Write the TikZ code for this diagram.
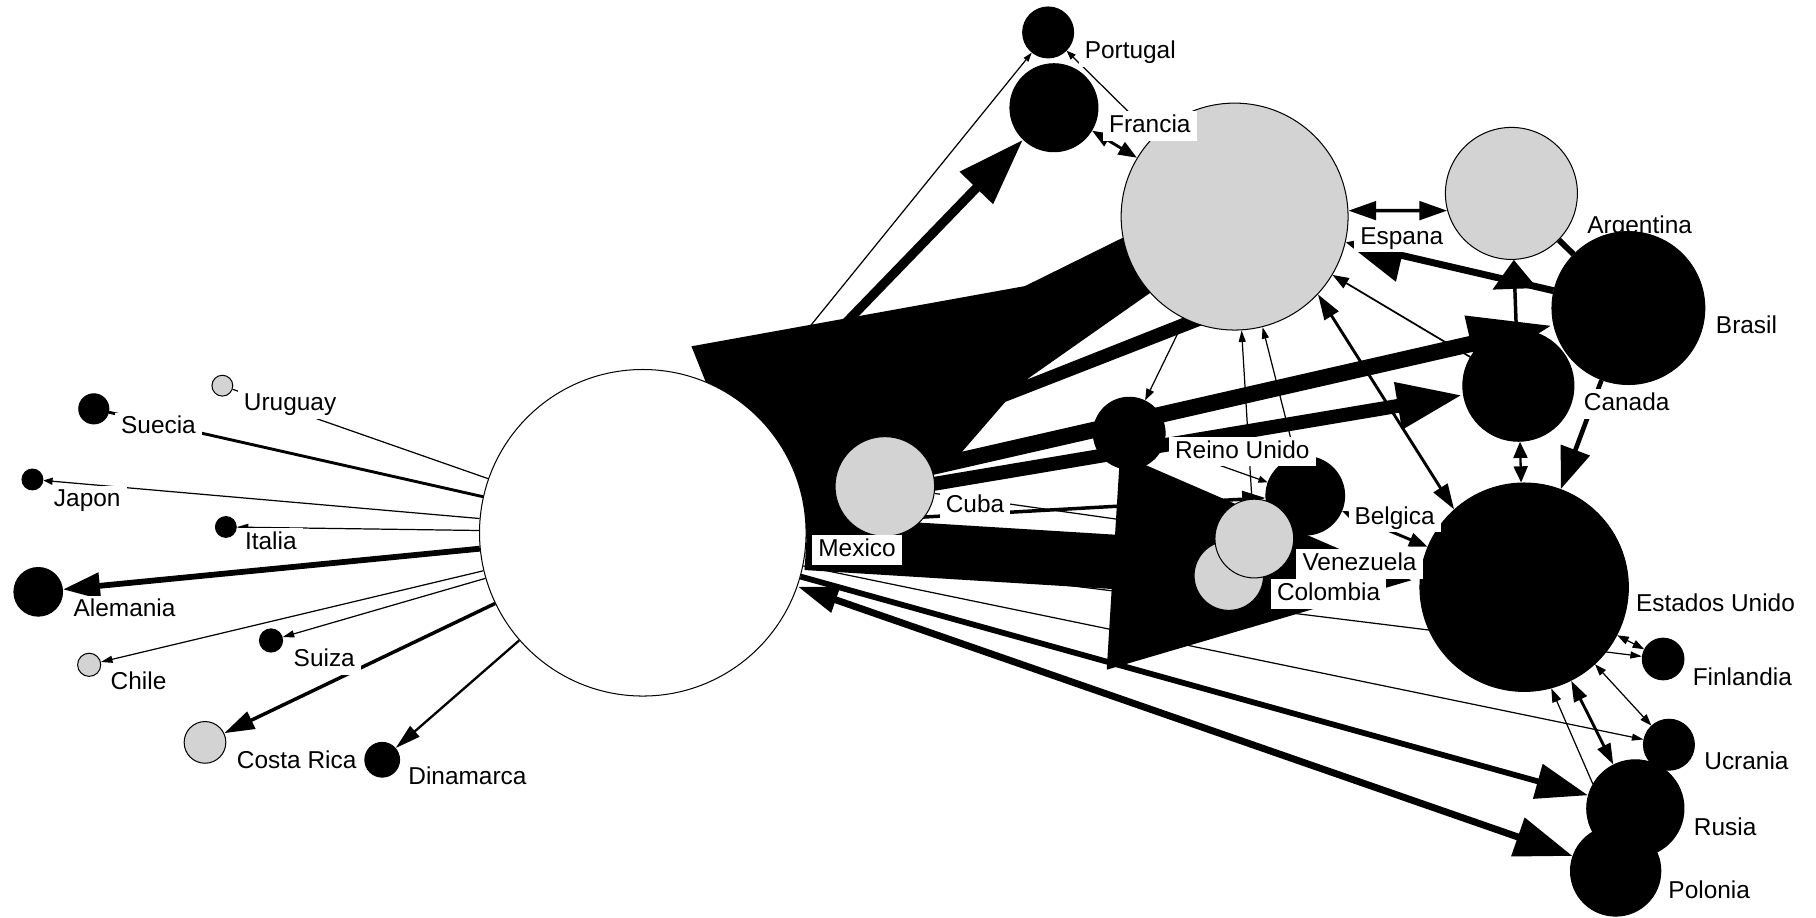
\documentclass[tikz,border=0pt]{standalone}
\usepackage{fontspec}
\setmainfont{Liberation Sans}
\usetikzlibrary{arrows.meta}
\definecolor{NetGray}{HTML}{D3D3D3}
\pgfdeclarelayer{edges}
\pgfsetlayers{edges,main}
\tikzset{
  blk/.style={circle,draw=black,fill=black,inner sep=0pt,line width=0.5pt},
  gry/.style={circle,draw=black,fill=NetGray,inner sep=0pt,line width=0.5pt},
  wht/.style={circle,draw=black,fill=white,inner sep=0pt,line width=0.5pt},
  lbl/.style={anchor=west,fill=white,inner xsep=3pt,inner ysep=1.5pt,text height=9pt,text depth=2.5pt,font=\fontsize{12}{14}\selectfont},
  hair/.style={line width=0.6pt},
}
\begin{document}
\begin{tikzpicture}[x=0.02cm,y=-0.02cm]
\useasboundingbox (0,0) rectangle (1568,792);
\node[wht,minimum size=5.64cm] (mex) at (555,460) {};
\node[gry,minimum size=1.72cm] (cub) at (764,420) {};
\node[blk,minimum size=0.88cm] (por) at (905,28) {};
\node[blk,minimum size=1.52cm] (fra) at (910,93) {};
\node[gry,minimum size=3.92cm] (esp) at (1066,187) {};
\node[gry,minimum size=2.28cm] (arg) at (1305,167) {};
\node[lbl] (arglbl) at (1365,196) {Argentina};
\node[blk,minimum size=2.64cm] (bra) at (1406,266) {};
\node[blk,minimum size=1.92cm] (can) at (1311,333) {};
\node[blk,minimum size=1.24cm] (ru) at (975,374) {};
\node[blk,minimum size=1.36cm] (bel) at (1127,428) {};
\node[gry,minimum size=1.20cm] (col) at (1061,497) {};
\node[gry,minimum size=1.36cm] (ven) at (1083,465) {};
\node[blk,minimum size=3.60cm] (eu) at (1316,507) {};
\node[blk,minimum size=0.72cm] (fin) at (1436,569) {};
\node[blk,minimum size=0.88cm] (ucr) at (1441,643) {};
\node[blk,minimum size=1.56cm] (pol) at (1395,752) {};
\node[blk,minimum size=1.68cm] (rus) at (1412,698) {};
\node[gry,minimum size=0.36cm] (uru) at (192,333) {};
\node[blk,minimum size=0.52cm] (sue) at (81,353) {};
\node[blk,minimum size=0.36cm] (jap) at (28,414) {};
\node[blk,minimum size=0.36cm] (ita) at (195,455) {};
\node[blk,minimum size=0.84cm] (ale) at (33,511) {};
\node[gry,minimum size=0.40cm] (chi) at (77,574) {};
\node[blk,minimum size=0.40cm] (sui) at (234,553) {};
\node[gry,minimum size=0.72cm] (cri) at (177,641) {};
\node[blk,minimum size=0.60cm] (din) at (330,656) {};

\begin{pgfonlayer}{edges}
\fill (597,299) -- (885,247) -- (970,205) -- (1010,215) -- (1000,248) -- (886,328) -- (1030,271) -- (1045,278) -- (868,347) -- (829,392) -- (770,430) -- (760,465) -- (640,465) -- (617,349) -- cycle;
\draw[line width=0.94cm,-{Triangle[length=5.3cm,width=3.44cm]}] (mex) -- (eu);
\draw[line width=0.28cm,-{Triangle[length=1.46cm,width=0.92cm]}] (mex) -- (bra);
\draw[line width=0.24cm,-{Triangle[length=1.14cm,width=0.76cm]}] (mex) -- (can);
\draw[line width=0.16cm,-{Triangle[length=1.16cm,width=0.76cm]}] (mex) -- (fra);
\draw[hair,-{Triangle[length=0.16cm,width=0.1cm]}] (mex) -- (por);
\draw[hair] (mex) -- (uru);
\draw[line width=0.05cm] (mex) -- (sue);
\draw[hair,-{Triangle[length=0.16cm,width=0.12cm]}] (mex) -- (jap);
\draw[hair,-{Triangle[length=0.2cm,width=0.12cm]}] (mex) -- (ita);
\draw[line width=0.1cm,-{Triangle[length=0.64cm,width=0.44cm]}] (mex) -- (ale);
\draw[hair,-{Triangle[length=0.2cm,width=0.12cm]}] (mex) -- (chi);
\draw[hair,-{Triangle[length=0.2cm,width=0.12cm]}] (mex) -- (sui);
\draw[line width=0.06cm,-{Triangle[length=0.52cm,width=0.32cm]}] (mex) -- (cri);
\draw[line width=0.04cm,-{Triangle[length=0.44cm,width=0.24cm]}] (mex) -- (din);
\draw[line width=0.1cm,-{Triangle[length=0.9cm,width=0.6cm]}] (mex) -- (rus);
\draw[line width=0.12cm,{Triangle[length=0.7cm,width=0.44cm]}-{Triangle[length=1cm,width=0.68cm]}] (mex) -- (pol);
\draw[hair,-{Triangle[length=0.2cm,width=0.12cm]}] (mex) -- (ucr);
\draw[hair,-{Triangle[length=0.2cm,width=0.12cm]}] (mex) -- (fin);
\draw[line width=0.06cm,-{Triangle[length=0.4cm,width=0.28cm]}] (mex) -- (bel);
\draw[hair,-{Triangle[length=0.16cm,width=0.12cm]}] (cub) -- (ven);
\draw[hair,-{Triangle[length=0.16cm,width=0.12cm]}] (esp) -- (por);
\draw[line width=0.05cm,{Triangle[length=0.32cm,width=0.24cm]}-{Triangle[length=0.32cm,width=0.24cm]}] (fra) -- (esp);
\draw[line width=0.06cm,{Triangle[length=0.48cm,width=0.32cm]}-{Triangle[length=0.48cm,width=0.32cm]}] (esp.3) -- (arg.195);
\draw[line width=0.12cm,-{Triangle[length=1cm,width=0.9cm]}] (bra) -- (esp);
\draw[line width=0.06cm,-{Triangle[length=0.5cm,width=0.76cm]}] (can) -- (arg);
\draw[line width=0.1cm] (arg) -- (bra);
\draw[line width=0.03cm,-{Triangle[length=0.28cm,width=0.2cm]}] (can) -- (esp);
\draw[line width=0.05cm,{Triangle[length=0.44cm,width=0.28cm]}-{Triangle[length=0.44cm,width=0.28cm]}] (esp.-43) -- (eu.132);
\draw[line width=0.08cm,-{Triangle[length=0.72cm,width=0.52cm]}] (bra) -- (eu);
\draw[line width=0.04cm,{Triangle[length=0.28cm,width=0.24cm]}-{Triangle[length=0.28cm,width=0.24cm]}] (can) -- (eu);
\draw[hair,-{Triangle[length=0.2cm,width=0.14cm]}] (esp) -- (ru);
\draw[hair,-{Triangle[length=0.2cm,width=0.12cm]}] (ven) -- (esp);
\draw[hair,-{Triangle[length=0.2cm,width=0.12cm]}] (bel) -- (esp);
\draw[hair,-{Triangle[length=0.16cm,width=0.12cm]}] (ru) -- (bel);
\draw[line width=0.05cm,{Triangle[length=0.32cm,width=0.24cm]}-{Triangle[length=0.32cm,width=0.24cm]}] (bel) -- (eu);
\draw[hair,{Triangle[length=0.2cm,width=0.14cm]}-{Triangle[length=0.2cm,width=0.14cm]}] (eu) -- (fin);
\draw[hair,{Triangle[length=0.2cm,width=0.14cm]}-{Triangle[length=0.2cm,width=0.14cm]}] (eu) -- (ucr);
\draw[line width=0.05cm,{Triangle[length=0.36cm,width=0.24cm]}-{Triangle[length=0.36cm,width=0.24cm]}] (eu) -- (rus);
\draw[hair,-{Triangle[length=0.24cm,width=0.16cm]}] (rus.150) -- (eu.-75);
\end{pgfonlayer}

\node[lbl] (porlbl) at (931,45) {Portugal};
\node[lbl] (fralbl) at (952,109) {Francia};
\node[lbl] (esplbl) at (1169,205) {Espana};
\node[lbl] (bralbl) at (1476,282) {Brasil};
\node[lbl] (canlbl) at (1362,349) {Canada};
\node[lbl] (rulbl) at (1009,390) {Reino Unido};
\node[lbl] (bellbl) at (1164,447) {Belgica};
\node[lbl] (venlbl) at (1119,487) {Venezuela};
\node[lbl] (collbl) at (1097,513) {Colombia};
\node[lbl] (eulbl) at (1407,522) {Estados Unido};
\node[lbl] (finlbl) at (1456,586) {Finlandia};
\node[lbl] (ucrlbl) at (1466,659) {Ucrania};
\node[lbl] (ruslbl) at (1457,716) {Rusia};
\node[lbl] (pollbl) at (1435,770) {Polonia};
\node[lbl] (mexlbl) at (701,475) {Mexico};
\node[lbl] (cublbl) at (811,437) {Cuba};
\node[lbl] (urulbl) at (205,349) {Uruguay};
\node[lbl] (suelbl) at (99,369) {Suecia};
\node[lbl] (japlbl) at (41,432) {Japon};
\node[lbl] (italbl) at (206,469) {Italia};
\node[lbl] (alelbl) at (58,527) {Alemania};
\node[lbl] (chilbl) at (90,590) {Chile};
\node[lbl] (suilbl) at (248,570) {Suiza};
\node[lbl] (crilbl) at (199,658) {Costa Rica};
\node[lbl] (dinlbl) at (347,672) {Dinamarca};
\end{tikzpicture}
\end{document}
